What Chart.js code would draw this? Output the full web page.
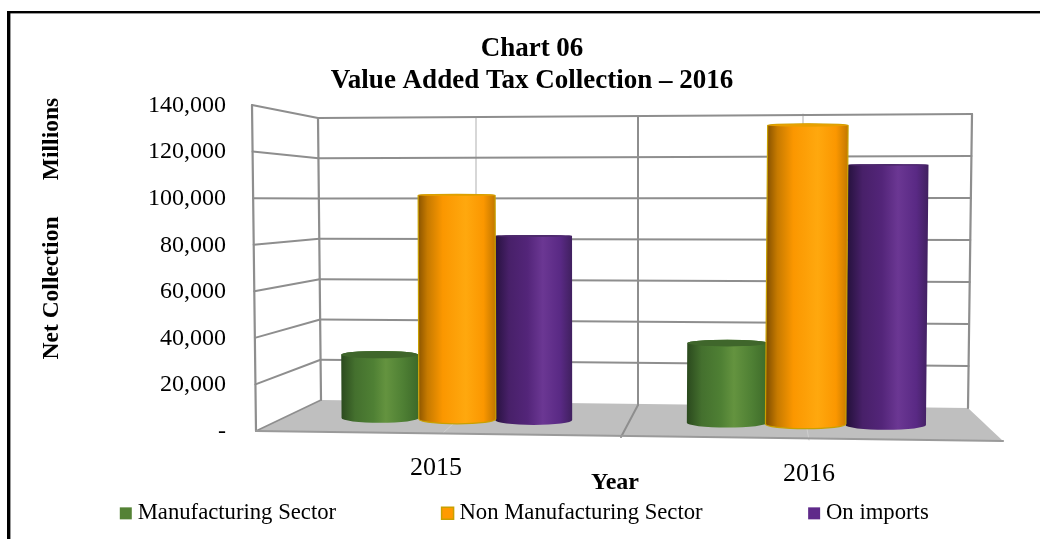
<!DOCTYPE html>
<html>
<head>
<meta charset="utf-8">
<style>html,body{margin:0;padding:0;background:#fff}#w{position:relative;width:1040px;height:539px;overflow:hidden}canvas{display:block}</style>
<script src="https://cdn.jsdelivr.net/npm/chart.js@4"></script>
</head>
<body>
<div id="w"><canvas id="c" width="1040" height="539"></canvas></div>
<script>
const categories = ['2015', '2016'];
const seriesNames = ['Manufacturing Sector', 'Non Manufacturing Sector', 'On imports'];
const manufacturing = [33000, 38000];
const nonManufacturing = [101500, 131500];
const onImports = [84000, 114500];
const yTicks = [0, 20000, 40000, 60000, 80000, 100000, 120000, 140000];

const SERIF = '"Liberation Serif","Times New Roman",serif';
const skins = {
  green:  {stops:[[0,'#2b4a1e'],[.18,'#44702e'],[.42,'#4f8034'],[.58,'#64933f'],[.8,'#4f8034'],[1,'#3d6a29']], cap:'#3f662b', edge:null},
  orange: {stops:[[0,'#8a5400'],[.12,'#c67a00'],[.32,'#fb9700'],[.62,'#ffa80e'],[.85,'#fb9700'],[1,'#c27800']], cap:'#e8a000', edge:'#c9a000'},
  purple: {stops:[[0,'#27123f'],[.18,'#482069'],[.42,'#532579'],[.62,'#6b3793'],[.85,'#592984'],[1,'#40205f']], cap:'#4d2a6c', edge:null}
};
const legendSwatch = {green:'#548235', orange:'#ff9a00', purple:'#5f2a8a'};

// Cylinder-shaped bar, drawn from the element's own x / y / width
class CylinderElement extends Chart.BarElement {
  draw(ctx) {
    const skin = skins[this.options.skin];
    const xs = this.$chartRef.scales.x;
    // group perspective: bars spread a little more towards the right of the chart
    const ticks = xs.ticks.map((t, i) => xs.getPixelForTick(i));
    const g = ticks.reduce((a, b) => Math.abs(b - this.x) < Math.abs(a - this.x) ? b : a);
    const spread = 1 + (g - 632) * 1.26e-4;
    const cx = g + (this.x - g) * spread;
    const w = this.width * spread;
    const yT = this.y;
    const yB = 418 + (cx - 381) * 0.0138;
    const h = yB - yT;
    const lean = (cx - 560) * h * 3e-5;
    const xl = cx - w / 2, xr = cx + w / 2;
    const bl = xl - lean, br = xr - lean;
    const ryT = Math.max(0.8, Math.abs(yT - 190) * 0.022);
    const ryB = 4.8;
    const rxB = (br - bl) / 2, bc = (br + bl) / 2;
    const grad = ctx.createLinearGradient(xl, 0, xr, 0);
    skin.stops.forEach(s => grad.addColorStop(s[0], s[1]));
    ctx.save();
    ctx.beginPath();
    ctx.moveTo(xl, yT);
    ctx.lineTo(bl, yB);
    ctx.ellipse(bc, yB, rxB, ryB, 0, Math.PI, 0, true);
    ctx.lineTo(xr, yT);
    ctx.ellipse(cx, yT, w / 2, ryT, 0, 0, Math.PI, true);
    ctx.closePath();
    ctx.fillStyle = grad;
    ctx.fill();
    if (skin.edge) { ctx.strokeStyle = skin.edge; ctx.lineWidth = 1.2; ctx.stroke(); }
    ctx.beginPath();
    ctx.ellipse(cx, yT, w / 2, ryT, 0, 0, Math.PI * 2);
    ctx.fillStyle = skin.cap;
    ctx.fill();
    ctx.restore();
  }
}
CylinderElement.id = 'cylinderElement';
CylinderElement.defaults = Object.assign({}, Chart.BarElement.defaults, {skin: 'green'});
CylinderElement.defaultRoutes = Chart.BarElement.defaultRoutes;

class CylinderController extends Chart.BarController {
  updateElements(bars, start, count, mode) {
    super.updateElements(bars, start, count, mode);
    for (let i = start; i < start + count; i++) bars[i].$chartRef = this.chart;
  }
}
CylinderController.id = 'cylinder';
CylinderController.defaults = Object.assign({}, Chart.BarController.defaults, {dataElementType: 'cylinderElement'});
CylinderController.overrides = Chart.BarController.overrides;
Chart.register(CylinderElement, CylinderController);

const WALL_LINE = '#8e8e8e';
const room = {
  frontL: [[252, 105], [256, 431]],
  backL:  [[318, 118], [321, 400]],
  backR:  [[972, 114], [968, 408]],
  floorR: [1003, 441]
};
function seg(ctx, a, b, color, w) {
  ctx.strokeStyle = color; ctx.lineWidth = w;
  ctx.beginPath(); ctx.moveTo(a[0], a[1]); ctx.lineTo(b[0], b[1]); ctx.stroke();
}
function along(p, t) { return [p[0][0] + (p[1][0] - p[0][0]) * t, p[0][1] + (p[1][1] - p[0][1]) * t]; }

const roomPlugin = {
  id: 'room',
  beforeLayout(chart) {
    const lg = chart.legend;
    if (!lg.$patched) {
      const fit = lg.fit;
      lg.fit = function () { fit.call(this); this.height = 107.5; };
      lg.$patched = true;
    }
  },
  afterLayout(chart) {
    const lg = chart.legend;
    lg.top -= 40.5;
    lg.left -= 5; lg.right -= 5;
  },
  beforeDatasetDraw(chart, args) {
    // the middle series sits in front of both neighbours
    if (args.index === 1) return false;
  },
  afterDatasetsDraw(chart) {
    chart.getDatasetMeta(1).controller.draw();
  },
  beforeDatasetsDraw(chart) {
    const ctx = chart.ctx, y = chart.scales.y;
    const top = y.getPixelForValue(y.max), bot = y.getPixelForValue(y.min);
    ctx.save();
    ctx.lineCap = 'round';
    // floor
    ctx.fillStyle = '#bfbfbf';
    ctx.beginPath();
    ctx.moveTo(...room.frontL[1]); ctx.lineTo(...room.backL[1]); ctx.lineTo(...room.backR[1]); ctx.lineTo(...room.floorR);
    ctx.closePath(); ctx.fill();
    // category dividers
    seg(ctx, [476, 117], [476, 403], '#bdbdbd', 1.2);
    seg(ctx, [803, 114], [803, 407], '#bdbdbd', 1.2);
    seg(ctx, [476, 403], [443, 433], '#cfcfcf', 1);
    seg(ctx, [803, 407], [809, 440], '#cfcfcf', 1);
    seg(ctx, [638, 117], [638, 405], WALL_LINE, 2);
    seg(ctx, [638, 405], [621, 437], WALL_LINE, 2);
    // grid lines, one per tick of the value axis
    yTicks.forEach(v => {
      const t = (y.getPixelForValue(v) - top) / (bot - top);
      const a = along(room.frontL, t), b = along(room.backL, t), c = along(room.backR, t);
      if (v > 0) seg(ctx, a, b, WALL_LINE, 2);
      if (v > 0) seg(ctx, b, c, WALL_LINE, 2);
    });
    seg(ctx, room.frontL[0], room.frontL[1], WALL_LINE, 2.2);
    seg(ctx, room.backL[0], room.backL[1], WALL_LINE, 2.2);
    seg(ctx, room.backR[0], room.backR[1], WALL_LINE, 2.2);
    seg(ctx, room.frontL[1], room.backL[1], WALL_LINE, 1.6);
    seg(ctx, room.frontL[1], room.floorR, '#9a9a9a', 2.2);
    ctx.restore();
  },
  afterDraw(chart) {
    const ctx = chart.ctx;
    ctx.save();
    // page frame
    ctx.fillStyle = '#000';
    ctx.fillRect(7, 11, 1033, 2.4);
    ctx.fillRect(7, 11, 3.4, 528);
    // axis texts
    ctx.fillStyle = '#000';
    ctx.textBaseline = 'middle';
    ctx.textAlign = 'center';
    ctx.font = '26px ' + SERIF;
    ctx.fillText(categories[0], 436, 468);
    ctx.fillText(categories[1], 809, 474);
    ctx.font = 'bold 24px ' + SERIF;
    ctx.fillText('Year', 615, 483);
    ctx.font = 'bold 23.5px ' + SERIF;
    ctx.translate(52, 0);
    ctx.rotate(-Math.PI / 2);
    ctx.fillText('Net Collection', -288, 0);
    ctx.fillText('Millions', -139, 0);
    ctx.restore();
  }
};

function ds(label, data, skin) {
  return {label, data, type: 'cylinder', skin, base: 0, clip: false,
    backgroundColor: legendSwatch[skin],
    categoryPercentage: 0.672, barPercentage: 1.0};
}

new Chart(document.getElementById('c'), {
  data: {
    labels: categories,
    datasets: [
      ds(seriesNames[0], manufacturing, 'green'),
      ds(seriesNames[1], nonManufacturing, 'orange'),
      ds(seriesNames[2], onImports, 'purple')
    ]
  },
  options: {
    responsive: false,
    animation: false,
    events: [],
    layout: {padding: {left: 16, right: -8, top: 0, bottom: 0}},
    scales: {
      x: {
        type: 'category',
        grid: {display: false, drawTicks: false},
        border: {display: false},
        ticks: {display: false},
        afterFit(s) { s.paddingRight = 56.5; s.height = 0; }
      },
      y: {
        type: 'linear', min: 0, max: 140000,
        grid: {display: false, drawTicks: false},
        border: {display: false},
        ticks: {
          stepSize: 20000, padding: 55,
          color: '#000',
          font: {family: SERIF, size: 24},
          callback: v => v === 0 ? '-' : v.toLocaleString('en-US')
        },
        afterFit(s) { s.width = 265; s.paddingTop = 0; s.paddingBottom = 0; }
      }
    },
    plugins: {
      tooltip: {enabled: false},
      title: {
        display: true,
        text: ['Chart 06', 'Value Added Tax Collection \u2013 2016'],
        color: '#000',
        font: {family: SERIF, size: 27, weight: 'bold', lineHeight: 1.185},
        padding: {top: 33, bottom: 8.5}
      },
      legend: {
        display: true,
        position: 'bottom',
        labels: {
          color: '#000',
          font: {family: SERIF, size: 22.7},
          usePointStyle: true,
          boxWidth: 1, boxHeight: 12,
          padding: 111,
          generateLabels(chart) {
            return chart.data.datasets.map((d, i) => ({
              text: d.label,
              pointStyle: 'rect',
              fillStyle: legendSwatch[d.skin],
              strokeStyle: d.skin === 'orange' ? '#c9a000' : legendSwatch[d.skin],
              lineWidth: d.skin === 'orange' ? 1.5 : 0,
              fontColor: '#000',
              datasetIndex: i,
              hidden: false
            }));
          }
        }
      }
    }
  },
  plugins: [roomPlugin]
});
</script>
</body>
</html>
